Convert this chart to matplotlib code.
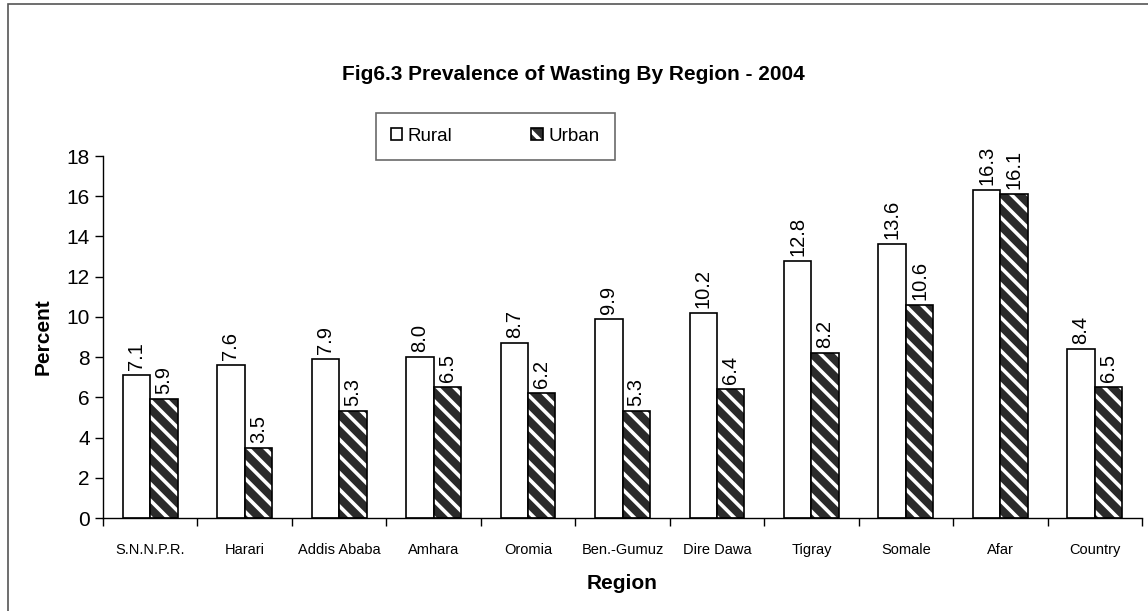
import matplotlib
matplotlib.use("Agg")
import matplotlib.pyplot as plt
from matplotlib.patches import Rectangle, Patch
from matplotlib.legend_handler import HandlerTuple
import numpy as np

regions = ["S.N.N.P.R.", "Harari", "Addis Ababa", "Amhara", "Oromia",
           "Ben.-Gumuz", "Dire Dawa", "Tigray", "Somale", "Afar", "Country"]
rural = [7.1, 7.6, 7.9, 8.0, 8.7, 9.9, 10.2, 12.8, 13.6, 16.3, 8.4]
urban = [5.9, 3.5, 5.3, 6.5, 6.2, 5.3, 6.4, 8.2, 10.6, 16.1, 6.5]

plt.rcParams["font.family"] = ["Liberation Sans", "DejaVu Sans"]
plt.rcParams["hatch.linewidth"] = 2.6

fig = plt.figure(figsize=(11.48, 6.11), dpi=100)
ax = fig.add_axes([103 / 1148, 1 - 518 / 611, 1039 / 1148, 362 / 611])

x = np.arange(len(regions))
w = 0.29

ax.bar(x - w / 2, rural, w, color="white", edgecolor="black", linewidth=1.2)
# hatched urban bars: white stripes on dark fill, then a black outline
ax.bar(x + w / 2, urban, w, color="#2b2b2b", edgecolor="white",
       hatch="\\\\", linewidth=0)
ax.bar(x + w / 2, urban, w, color="none", edgecolor="black", linewidth=1.2)

for xi, v in zip(x - w / 2, rural):
    ax.text(xi, v + 0.25, f"{v:.1f}", rotation=90, ha="center", va="bottom",
            fontsize=14.5)
for xi, v in zip(x + w / 2, urban):
    ax.text(xi, v + 0.25, f"{v:.1f}", rotation=90, ha="center", va="bottom",
            fontsize=14.5)

ax.set_xlim(-0.5, len(regions) - 0.5)
ax.set_ylim(0, 18)
ax.set_yticks(range(0, 19, 2))
ax.set_xticks(x)
ax.set_xticklabels(regions, fontsize=10.5)
ax.set_xticks(np.arange(-0.5, len(regions), 1), minor=True)
ax.tick_params(axis="x", which="major", length=0, pad=18)
ax.tick_params(axis="x", which="minor", length=6, direction="out", width=1)
ax.tick_params(axis="y", labelsize=15, length=6, width=1, direction="out")
for s in ["top", "right"]:
    ax.spines[s].set_visible(False)
ax.spines["left"].set_linewidth(1)
ax.spines["bottom"].set_linewidth(1)

ax.set_ylabel("Percent", fontsize=15, fontweight="bold", labelpad=10)
ax.set_xlabel("Region", fontsize=15, fontweight="bold", labelpad=12)

fig.text(573 / 1148, 1 - 75 / 611, "Fig6.3 Prevalence of Wasting By Region - 2004",
         ha="center", va="center", fontsize=15, fontweight="bold")

rural_h = Patch(facecolor="white", edgecolor="black", linewidth=1.2)
urban_fill = Patch(facecolor="#2b2b2b", edgecolor="white", hatch="\\\\",
                   linewidth=0)
urban_edge = Patch(facecolor="none", edgecolor="black", linewidth=1.2)
leg = fig.legend([rural_h, (urban_fill, urban_edge)], ["Rural", "Urban"],
                 handler_map={tuple: HandlerTuple(ndivide=1, pad=0)},
                 loc="upper left", ncol=2,
                 bbox_to_anchor=(376 / 1148, 1 - 113 / 611),
                 frameon=True, fancybox=False, shadow=False, fontsize=13.5,
                 handlelength=0.6, handleheight=0.6, columnspacing=4.2,
                 handletextpad=0.3, borderpad=0.8, borderaxespad=0)
leg.get_frame().set_edgecolor("#444444")
leg.get_frame().set_linewidth(1.2)

fig.patches.append(Rectangle((8 / 1148, -0.05), 1.1, 1.05 - 4 / 611,
                             transform=fig.transFigure, fill=False,
                             edgecolor="#555555", linewidth=1.2))

fig.savefig("out.png", dpi=100)
